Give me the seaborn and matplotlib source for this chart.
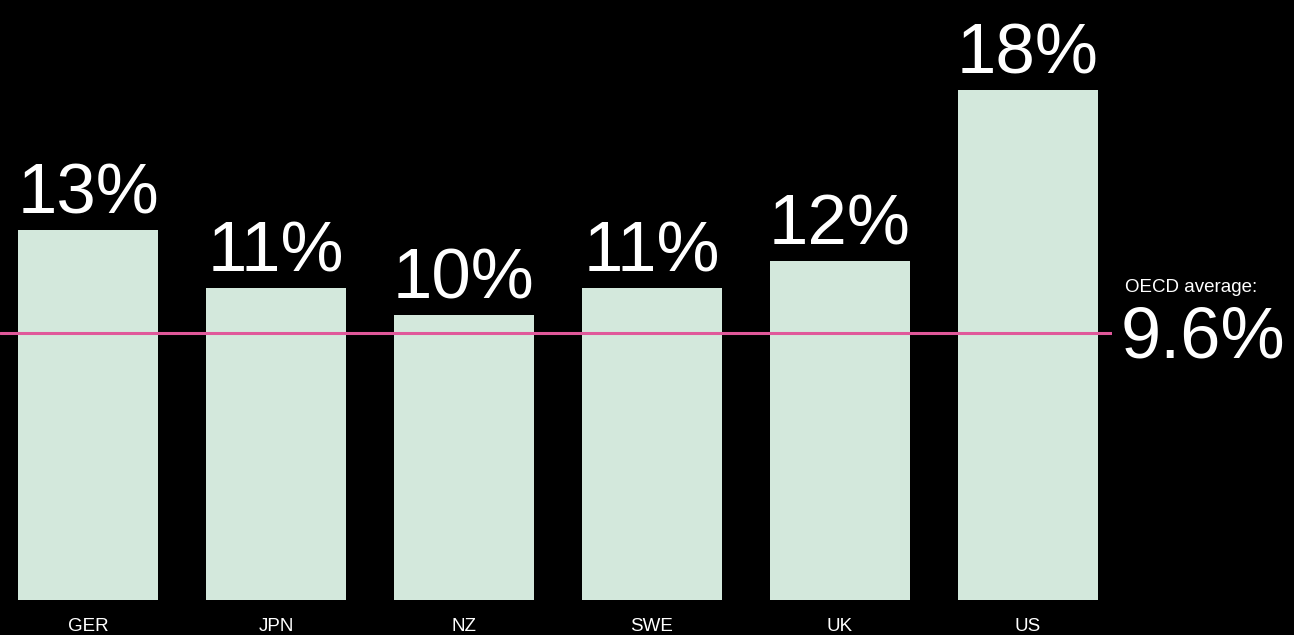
import matplotlib
matplotlib.use("Agg")
import matplotlib.pyplot as plt
import seaborn as sns
import pandas as pd

countries = ["GER", "JPN", "NZ", "SWE", "UK", "US"]
values = [13.06, 11.0, 10.05, 11.0, 11.96, 18.0]
value_labels = ["13%", "11%", "10%", "11%", "12%", "18%"]
oecd_line = 9.42
oecd_label = "9.6%"
oecd_title = "OECD average:"

sns.set_theme(style="white")
plt.rcParams['font.family'] = ['Liberation Sans', 'DejaVu Sans']

W, H = 1294, 635
fig = plt.figure(figsize=(W / 100, H / 100), dpi=100, facecolor="black")
ax = fig.add_axes([0, 35 / H, 1112 / W, 600 / H])
ax.set_facecolor("black")

df = pd.DataFrame({"country": countries, "value": values})
sns.barplot(data=df, x="country", y="value", color="#d3e8dc", saturation=1,
            width=0.745, ax=ax, linewidth=0, edgecolor="none")

ax.set_xlim(-88 / 188, (1112 - 88) / 188)
ax.set_ylim(0, 600 / 28.33)

for i, (v, lab) in enumerate(zip(values, value_labels)):
    ax.annotate(lab, (i, v), xytext=(0, 12), textcoords="offset points",
                ha="center", va="baseline", color="white", fontsize=51)

ax.axhline(oecd_line, color="#e0589a", lw=2.2, zorder=5)

for s in ax.spines.values():
    s.set_visible(False)
ax.set_yticks([])
ax.set_xlabel("")
ax.set_ylabel("")
ax.tick_params(axis="x", length=0, pad=13, labelsize=13.5, labelcolor="white")

fig.text(1125 / W, 1 - 292 / H, oecd_title, color="white", fontsize=13.5,
         ha="left", va="baseline")
fig.text(1121 / W, 1 - 357 / H, oecd_label, color="white", fontsize=52,
         ha="left", va="baseline")

fig.savefig("out.png", dpi=100, facecolor="black")
